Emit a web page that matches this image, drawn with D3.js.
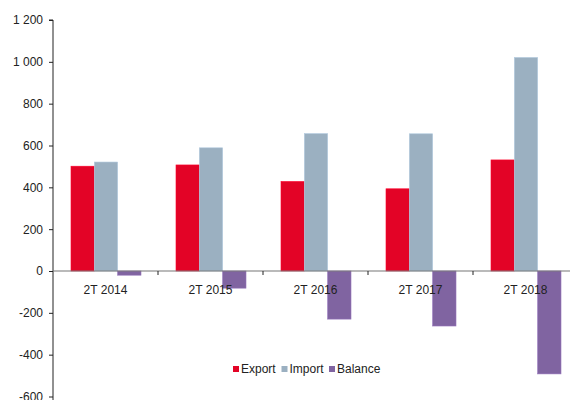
<!DOCTYPE html>
<html><head><meta charset="utf-8">
<script src="https://cdn.jsdelivr.net/npm/d3@7"></script>
<style>body{margin:0;background:#fff;}svg{display:block;font-family:"Liberation Sans",Arial,sans-serif;}</style>
</head><body>
<svg id="c" width="570" height="400"></svg>
<script>
const categories = ["2T 2014","2T 2015","2T 2016","2T 2017","2T 2018"];
const seriesNames = ["Export","Import","Balance"];
const exportVals = [501, 507, 428, 393, 531];
const importVals = [521, 589, 657, 656, 1021];
const balanceVals = [-20, -82, -230, -263, -492];
const yTicks = [-600,-400,-200,0,200,400,600,800,1000,1200];
const colors = ["#e30326","#9bb0c1","#8064a1"];

const svg = d3.select("#c");
const x0 = 53, bandW = 105;
const x = d3.scaleBand().domain(categories).range([x0, x0 + bandW*categories.length]).paddingInner(0).paddingOuter(0);
const y = d3.scaleLinear().domain([-600,1200]).range([396.5,20]);
const xs = d3.scaleBand().domain(seriesNames).range([18, 18 + 70]).paddingInner(0).paddingOuter(0);
const seriesData = [exportVals, importVals, balanceVals];

const g = svg.append("g");
seriesData.forEach((vals, si) => {
  g.selectAll(".s"+si).data(vals).enter().append("rect")
    .attr("x", (d,i) => x(categories[i]) + xs(seriesNames[si]))
    .attr("width", xs.bandwidth())
    .attr("y", d => y(Math.max(0,d)))
    .attr("height", d => Math.abs(y(d) - y(0)))
    .attr("fill", colors[si])
    .attr("stroke", d3.color(colors[si]).brighter(0.4))
    .attr("stroke-width", 0.6);
});

// y axis
const yAxis = d3.axisLeft(y).tickValues(yTicks).tickSize(4).tickPadding(6)
  .tickFormat(d => d3.format(",")(d).replace(/,/g, "\u00a0").replace("\u2212", "-"));
const ya = svg.append("g").attr("transform", `translate(${x0},0)`).call(yAxis);
ya.select(".domain").attr("stroke","#222").attr("d", `M-4,${y(1200)}H0V${y(-600)+4}`);
ya.selectAll(".tick line").attr("stroke","#222");
ya.selectAll("text").attr("font-size", 12).attr("fill","#222").attr("font-family","Liberation Sans, Arial, sans-serif");

// x axis at zero
const xAxis = d3.axisBottom(x).tickSize(0).tickPadding(14);
const xa = svg.append("g").attr("transform", `translate(0,${y(0)})`).call(xAxis);
xa.select(".domain").attr("stroke","#777").attr("stroke-width",1.2).attr("d", `M${x0},0H570`);
xa.selectAll("text").attr("font-size", 12).attr("fill","#222").attr("font-family","Liberation Sans, Arial, sans-serif");
// between-category tick marks
svg.append("g").selectAll("line").data(categories.slice(1)).enter().append("line")
  .attr("x1", d => x(d)).attr("x2", d => x(d))
  .attr("y1", y(0)).attr("y2", y(0)+4).attr("stroke","#222");

// legend
const legendX = [233, 281.5, 329];
const lg = svg.append("g");
seriesNames.forEach((n,i) => {
  lg.append("rect").attr("x", legendX[i]).attr("y", 366).attr("width", 6).attr("height", 6).attr("fill", colors[i]);
  lg.append("text").attr("x", legendX[i]+8).attr("y", 373).attr("font-size", 12).attr("fill","#222").text(n);
});
</script>
</body></html>
